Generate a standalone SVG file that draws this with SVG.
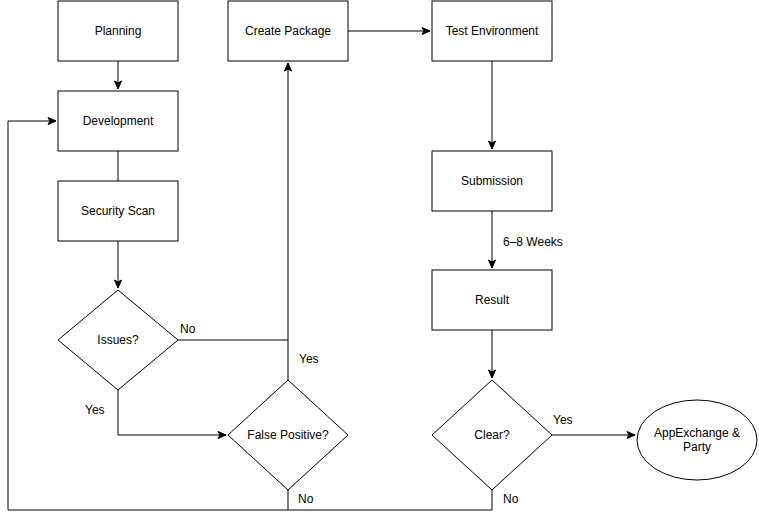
<svg xmlns="http://www.w3.org/2000/svg" width="759" height="519" viewBox="0 0 759 519">
<defs>
<marker id="a" markerWidth="10" markerHeight="10" refX="9" refY="5" orient="auto" markerUnits="userSpaceOnUse">
<path d="M1,1.5 L9,5 L1,8.5 L3,5 Z" fill="#000" stroke="#000"/>
</marker>
<style>
.s{fill:#fff;stroke:#000;stroke-width:1}
.c{fill:none;stroke:#000;stroke-width:1}
text{font-family:Helvetica,"Liberation Sans",Arial,sans-serif;font-size:12px;fill:#000}
.m{text-anchor:middle;dominant-baseline:central}
</style>
</defs>
<rect width="759" height="519" fill="#fff"/>
<g id="connectors">
<path class="c" d="M118,61 V89" marker-end="url(#a)"/>
<path class="c" d="M118,151 V181"/>
<path class="c" d="M118,241 V288" marker-end="url(#a)"/>
<path class="c" d="M178,340 H288 V63" marker-end="url(#a)"/>
<path class="c" d="M288,380 V340"/>
<path class="c" d="M118,390 V435 H226" marker-end="url(#a)"/>
<path class="c" d="M288,490 V510 H8 V121 H56" marker-end="url(#a)"/>
<path class="c" d="M492,490 V510 H288"/>
<path class="c" d="M348,31 H430" marker-end="url(#a)"/>
<path class="c" d="M492,61 V149" marker-end="url(#a)"/>
<path class="c" d="M492,211 V268" marker-end="url(#a)"/>
<path class="c" d="M492,330 V378" marker-end="url(#a)"/>
<path class="c" d="M552,435 H635" marker-end="url(#a)"/>
<text x="180" y="333">No</text>
<text x="299" y="363">Yes</text>
<text x="85" y="414">Yes</text>
<text x="298" y="503">No</text>
<text x="503" y="503">No</text>
<text x="503" y="246">6–8 Weeks</text>
<text x="553" y="424">Yes</text>
</g>
<g id="planning"><rect class="s" x="58" y="1" width="120" height="60"/><text class="m" x="118" y="31">Planning</text></g>
<g id="development"><rect class="s" x="58" y="91" width="120" height="60"/><text class="m" x="118" y="121">Development</text></g>
<g id="security-scan"><rect class="s" x="58" y="181" width="120" height="60"/><text class="m" x="118" y="211">Security Scan</text></g>
<g id="issues"><path class="s" d="M118,290 L178,340 L118,390 L58,340 Z"/><text class="m" x="118" y="340">Issues?</text></g>
<g id="false-positive"><path class="s" d="M288,380 L348,435 L288,490 L228,435 Z"/><text class="m" x="288" y="435">False Positive?</text></g>
<g id="create-package"><rect class="s" x="228" y="1" width="120" height="60"/><text class="m" x="288" y="31">Create Package</text></g>
<g id="test-environment"><rect class="s" x="432" y="1" width="120" height="60"/><text class="m" x="492" y="31">Test Environment</text></g>
<g id="submission"><rect class="s" x="432" y="151" width="120" height="60"/><text class="m" x="492" y="181">Submission</text></g>
<g id="result"><rect class="s" x="432" y="270" width="120" height="60"/><text class="m" x="492" y="300">Result</text></g>
<g id="clear"><path class="s" d="M492,380 L552,435 L492,490 L432,435 Z"/><text class="m" x="492" y="435">Clear?</text></g>
<g id="appexchange"><ellipse class="s" cx="697" cy="440" rx="60" ry="40"/><text class="m" x="697" y="433">AppExchange &amp;</text><text class="m" x="697" y="447">Party</text></g>
</svg>
